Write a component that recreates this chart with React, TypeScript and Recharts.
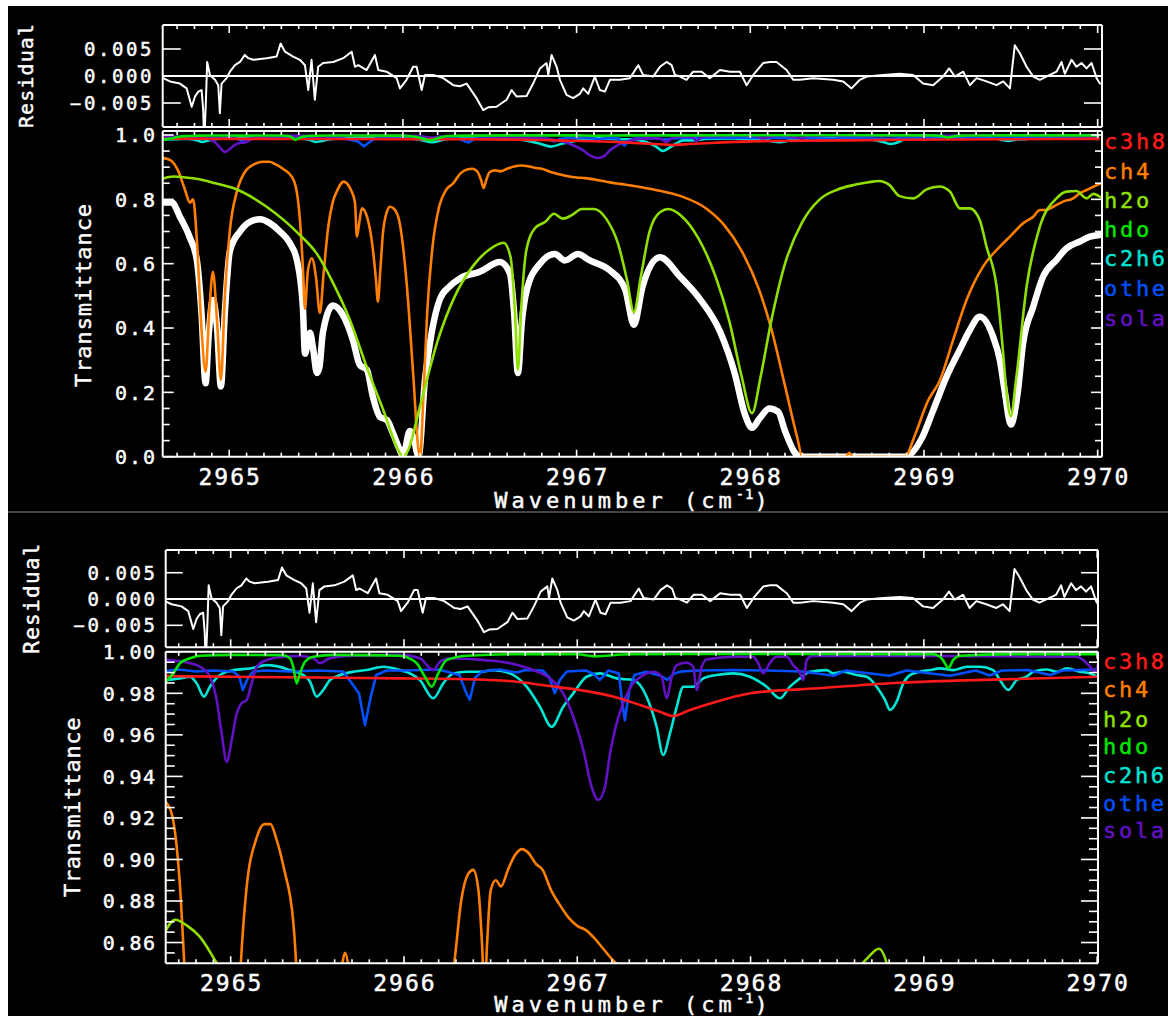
import React from 'react';
import { LineChart, Line, XAxis, YAxis, ReferenceLine } from 'recharts';

type Pt = [number, number];

// ---------- tick values / labels ----------
const xMajorValues = [2965, 2966, 2967, 2968, 2969, 2970];
const xMajorLabels = ['2965', '2966', '2967', '2968', '2969', '2970'];
const xTickValues = Array.from({ length: 54 }, (_, i) => Math.round((2964.7 + i * 0.1) * 10) / 10);

const residTickValues = [-0.005, 0, 0.005];
const residTickLabels = ['\u22120.005', '0.000', '0.005'];

const transMajorValues = [0, 0.2, 0.4, 0.6, 0.8, 1.0];
const transMajorLabels = ['0.0', '0.2', '0.4', '0.6', '0.8', '1.0'];
const transTickValues = Array.from({ length: 21 }, (_, i) => Math.round(i * 0.05 * 100) / 100);

const zoomMajorValues = [0.86, 0.88, 0.9, 0.92, 0.94, 0.96, 0.98, 1.0];
const zoomMajorLabels = ['0.86', '0.88', '0.90', '0.92', '0.94', '0.96', '0.98', '1.00'];
const zoomTickValues = Array.from({ length: 30 }, (_, i) => Math.round((0.855 + i * 0.005) * 1000) / 1000);

const legendNames = ['c3h8', 'ch4', 'h2o', 'hdo', 'c2h6', 'other', 'solar'];

// ---------- data ----------
const residual: Pt[] = [
  [2964.620, -0.0004], [2964.659, -0.0010], [2964.716, -0.0014], [2964.755, -0.0023], [2964.784, -0.0057],
  [2964.803, -0.0038], [2964.822, -0.0029], [2964.841, -0.0026], [2964.850, -0.0063], [2964.856, -0.0125],
  [2964.866, -0.0044], [2964.873, 0.0026], [2964.889, 0.0002], [2964.918, -0.0007], [2964.937, -0.0017],
  [2964.946, -0.0069], [2964.956, -0.0014], [2964.985, -0.0004], [2965.004, 0.0008], [2965.033, 0.0020],
  [2965.062, 0.0026], [2965.090, 0.0039], [2965.110, 0.0033], [2965.138, 0.0030], [2965.215, 0.0033],
  [2965.273, 0.0036], [2965.296, 0.0060], [2965.321, 0.0045], [2965.368, 0.0036], [2965.407, 0.0030],
  [2965.436, 0.0020], [2965.455, -0.0026], [2965.474, 0.0030], [2965.493, -0.0044], [2965.512, 0.0017],
  [2965.541, 0.0024], [2965.599, 0.0026], [2965.656, 0.0033], [2965.705, 0.0045], [2965.724, 0.0017],
  [2965.743, 0.0020], [2965.791, 0.0011], [2965.839, 0.0039], [2965.858, 0.0011], [2965.906, 0.0008],
  [2965.964, -0.0004], [2965.983, -0.0023], [2966.021, -0.0007], [2966.059, 0.0017], [2966.079, 0.0017],
  [2966.108, -0.0026], [2966.127, 0.0002], [2966.174, 0.0002], [2966.232, -0.0004], [2966.290, -0.0017],
  [2966.328, -0.0019], [2966.367, -0.0014], [2966.424, -0.0041], [2966.462, -0.0063], [2966.491, -0.0058],
  [2966.539, -0.0057], [2966.597, -0.0044], [2966.626, -0.0026], [2966.655, -0.0038], [2966.712, -0.0037],
  [2966.750, -0.0014], [2966.789, 0.0014], [2966.827, 0.0024], [2966.837, 0.0002], [2966.856, 0.0039],
  [2966.885, 0.0017], [2966.904, -0.0007], [2966.942, -0.0035], [2966.980, -0.0041], [2967.019, -0.0033],
  [2967.038, -0.0023], [2967.067, -0.0033], [2967.105, -0.0001], [2967.134, -0.0026], [2967.163, -0.0029],
  [2967.192, -0.0007], [2967.249, -0.0007], [2967.307, -0.0004], [2967.355, 0.0020], [2967.383, 0.0002],
  [2967.441, -0.0001], [2967.480, 0.0017], [2967.518, 0.0026], [2967.547, 0.0020], [2967.566, 0.0002],
  [2967.595, -0.0001], [2967.633, -0.0007], [2967.671, 0.0008], [2967.720, 0.0008], [2967.767, -0.0004],
  [2967.825, 0.0011], [2967.883, 0.0008], [2967.940, 0.0008], [2967.979, -0.0017], [2968.017, 0.0002],
  [2968.074, 0.0024], [2968.113, 0.0026], [2968.151, 0.0026], [2968.209, 0.0011], [2968.247, -0.0007],
  [2968.286, -0.0007], [2968.362, -0.0004], [2968.477, -0.0007], [2968.535, -0.0010], [2968.583, -0.0023],
  [2968.631, -0.0007], [2968.670, -0.0001], [2968.765, 0.0002], [2968.861, 0.0004], [2968.938, 0.0002],
  [2968.995, -0.0014], [2969.053, -0.0017], [2969.110, -0.0001], [2969.145, 0.0014], [2969.178, -0.0001],
  [2969.226, 0.0008], [2969.264, -0.0017], [2969.303, -0.0004], [2969.360, -0.0010], [2969.418, -0.0017],
  [2969.456, -0.0010], [2969.495, -0.0023], [2969.523, 0.0057], [2969.552, 0.0042], [2969.591, 0.0017],
  [2969.629, -0.0001], [2969.667, -0.0007], [2969.725, 0.0002], [2969.763, 0.0008], [2969.792, 0.0026],
  [2969.811, 0.0004], [2969.850, 0.0030], [2969.878, 0.0017], [2969.907, 0.0024], [2969.936, 0.0014],
  [2969.965, 0.0024], [2969.994, -0.0004], [2970.013, -0.0014],
];

const measured: Pt[] = [
  [2964.620, 0.790], [2964.670, 0.790], [2964.716, 0.746], [2964.774, 0.680], [2964.814, 0.610],
  [2964.840, 0.450], [2964.864, 0.228], [2964.882, 0.380], [2964.906, 0.487], [2964.930, 0.400],
  [2964.952, 0.218], [2964.975, 0.450], [2965.004, 0.640], [2965.062, 0.700], [2965.119, 0.730],
  [2965.177, 0.738], [2965.234, 0.726], [2965.292, 0.700], [2965.349, 0.664], [2965.390, 0.610],
  [2965.424, 0.466], [2965.436, 0.320], [2965.465, 0.385], [2965.482, 0.340], [2965.505, 0.260],
  [2965.520, 0.280], [2965.539, 0.385], [2965.597, 0.470], [2965.655, 0.440], [2965.712, 0.363],
  [2965.752, 0.285], [2965.793, 0.270], [2965.827, 0.187], [2965.867, 0.124], [2965.908, 0.114],
  [2965.942, 0.074], [2965.983, 0.020], [2966.000, 0.002], [2966.040, 0.080], [2966.060, 0.060],
  [2966.090, 0.002], [2966.127, 0.240], [2966.167, 0.390], [2966.213, 0.490], [2966.270, 0.530],
  [2966.330, 0.555], [2966.443, 0.575], [2966.558, 0.605], [2966.616, 0.570], [2966.640, 0.450],
  [2966.662, 0.260], [2966.685, 0.420], [2966.714, 0.520], [2966.789, 0.600], [2966.875, 0.630],
  [2966.932, 0.610], [2967.007, 0.630], [2967.076, 0.610], [2967.190, 0.580], [2967.280, 0.520],
  [2967.330, 0.410], [2967.380, 0.530], [2967.480, 0.620], [2967.595, 0.560], [2967.710, 0.490],
  [2967.825, 0.390], [2967.910, 0.260], [2967.970, 0.130], [2968.010, 0.090], [2968.055, 0.120],
  [2968.110, 0.150], [2968.160, 0.140], [2968.200, 0.080], [2968.260, 0.010], [2968.290, 0.000],
  [2968.890, 0.000], [2968.990, 0.060], [2969.050, 0.140], [2969.130, 0.249], [2969.206, 0.332],
  [2969.264, 0.394], [2969.321, 0.435], [2969.398, 0.373], [2969.437, 0.300], [2969.466, 0.200],
  [2969.500, 0.100], [2969.540, 0.200], [2969.570, 0.350], [2969.629, 0.466], [2969.686, 0.560],
  [2969.763, 0.612], [2969.821, 0.648], [2969.898, 0.669], [2969.956, 0.684], [2970.013, 0.689],
];

const ch4: Pt[] = [
  [2964.620, 0.928], [2964.660, 0.922], [2964.705, 0.890], [2964.745, 0.830], [2964.774, 0.790],
  [2964.792, 0.800], [2964.814, 0.670], [2964.840, 0.400], [2964.864, 0.264], [2964.885, 0.450],
  [2964.906, 0.575], [2964.930, 0.420], [2964.952, 0.238], [2964.975, 0.500], [2965.004, 0.705],
  [2965.044, 0.824], [2965.090, 0.885], [2965.148, 0.910], [2965.194, 0.917], [2965.230, 0.917],
  [2965.263, 0.910], [2965.309, 0.895], [2965.361, 0.870], [2965.390, 0.820], [2965.407, 0.736],
  [2965.424, 0.590], [2965.436, 0.460], [2965.453, 0.580], [2965.476, 0.617], [2965.499, 0.560],
  [2965.522, 0.447], [2965.545, 0.580], [2965.568, 0.705], [2965.597, 0.793], [2965.620, 0.825],
  [2965.645, 0.850], [2965.660, 0.855], [2965.680, 0.848], [2965.700, 0.830], [2965.724, 0.790],
  [2965.735, 0.684], [2965.748, 0.725], [2965.764, 0.772], [2965.793, 0.746], [2965.820, 0.674],
  [2965.845, 0.550], [2965.856, 0.482], [2965.870, 0.580], [2965.885, 0.695], [2965.910, 0.765],
  [2965.925, 0.777], [2965.950, 0.770], [2965.980, 0.730], [2966.020, 0.550], [2966.060, 0.250],
  [2966.090, 0.020], [2966.100, 0.000], [2966.115, 0.150], [2966.140, 0.450], [2966.170, 0.650],
  [2966.210, 0.780], [2966.250, 0.830], [2966.290, 0.850], [2966.330, 0.880], [2966.370, 0.893],
  [2966.400, 0.895], [2966.430, 0.885], [2966.450, 0.860], [2966.465, 0.835], [2966.480, 0.860],
  [2966.500, 0.885], [2966.530, 0.890], [2966.560, 0.887], [2966.600, 0.895], [2966.640, 0.902],
  [2966.680, 0.905], [2966.720, 0.903], [2966.760, 0.898], [2966.800, 0.895], [2966.850, 0.885],
  [2966.900, 0.878], [2966.950, 0.872], [2967.000, 0.868], [2967.050, 0.866], [2967.100, 0.862],
  [2967.150, 0.857], [2967.200, 0.852], [2967.250, 0.848], [2967.350, 0.840], [2967.450, 0.830],
  [2967.600, 0.810], [2967.750, 0.770], [2967.850, 0.720], [2967.950, 0.640], [2968.050, 0.520],
  [2968.120, 0.400], [2968.200, 0.220], [2968.270, 0.060], [2968.300, 0.000], [2968.550, 0.000],
  [2968.570, 0.012], [2968.590, 0.000], [2968.890, 0.000], [2968.950, 0.070], [2969.020, 0.170],
  [2969.092, 0.238], [2969.168, 0.363], [2969.245, 0.487], [2969.340, 0.591], [2969.437, 0.653],
  [2969.495, 0.684], [2969.572, 0.726], [2969.629, 0.746], [2969.667, 0.767], [2969.706, 0.767],
  [2969.744, 0.777], [2969.801, 0.793], [2969.859, 0.803], [2969.898, 0.819], [2969.936, 0.829],
  [2970.013, 0.848],
];

const h2o: Pt[] = [
  [2964.620, 0.865], [2964.680, 0.871], [2964.750, 0.868], [2964.820, 0.863], [2964.920, 0.850],
  [2965.023, 0.835], [2965.215, 0.777], [2965.407, 0.689], [2965.503, 0.632], [2965.599, 0.539],
  [2965.695, 0.425], [2965.791, 0.280], [2965.887, 0.145], [2965.983, 0.011], [2966.000, 0.000],
  [2966.030, 0.020], [2966.100, 0.160], [2966.200, 0.360], [2966.300, 0.500], [2966.400, 0.590],
  [2966.500, 0.645], [2966.580, 0.665], [2966.620, 0.620], [2966.645, 0.450], [2966.662, 0.270],
  [2966.680, 0.450], [2966.710, 0.640], [2966.760, 0.710], [2966.820, 0.730], [2966.870, 0.755],
  [2966.920, 0.740], [2966.970, 0.750], [2967.030, 0.770], [2967.100, 0.770], [2967.170, 0.740],
  [2967.240, 0.660], [2967.290, 0.550], [2967.330, 0.450], [2967.370, 0.560], [2967.420, 0.700],
  [2967.480, 0.760], [2967.530, 0.770], [2967.600, 0.750], [2967.700, 0.680], [2967.800, 0.560],
  [2967.880, 0.420], [2967.950, 0.250], [2968.010, 0.135], [2968.060, 0.250], [2968.120, 0.420],
  [2968.200, 0.600], [2968.300, 0.730], [2968.400, 0.800], [2968.500, 0.830], [2968.600, 0.845],
  [2968.680, 0.853], [2968.740, 0.857], [2968.800, 0.845], [2968.860, 0.810], [2968.940, 0.803],
  [2969.015, 0.831], [2969.090, 0.840], [2969.150, 0.824], [2969.207, 0.772], [2969.264, 0.772],
  [2969.321, 0.736], [2969.360, 0.653], [2969.418, 0.529], [2969.456, 0.321], [2969.470, 0.230],
  [2969.500, 0.126], [2969.530, 0.238], [2969.591, 0.529], [2969.667, 0.715], [2969.763, 0.803],
  [2969.821, 0.824], [2969.878, 0.826], [2969.936, 0.803], [2969.975, 0.817], [2970.013, 0.808],
];

const hdo: Pt[] = [
  [2964.625, 0.9856], [2964.669, 0.9896], [2964.707, 0.9945], [2964.765, 0.9969], [2964.823, 0.9981],
  [2965.000, 0.9985], [2965.300, 0.9984], [2965.342, 0.9969], [2965.361, 0.9928], [2965.381, 0.9848],
  [2965.400, 0.9896], [2965.429, 0.9952], [2965.477, 0.9976], [2965.600, 0.9985], [2965.977, 0.9981],
  [2966.040, 0.9965], [2966.073, 0.9945], [2966.121, 0.9880], [2966.160, 0.9832], [2966.198, 0.9896],
  [2966.246, 0.9960], [2966.362, 0.9981], [2966.700, 0.9989], [2967.000, 0.9988], [2967.100, 0.9978],
  [2967.300, 0.9988], [2968.000, 0.9990], [2969.050, 0.9989], [2969.093, 0.9977], [2969.122, 0.9945],
  [2969.141, 0.9921], [2969.170, 0.9961], [2969.208, 0.9981], [2969.500, 0.9989], [2970.005, 0.9989],
];

const c2h6: Pt[] = [
  [2964.631, 0.9864], [2964.707, 0.9872], [2964.765, 0.9880], [2964.804, 0.9848], [2964.846, 0.9784],
  [2964.880, 0.9832], [2964.938, 0.9888], [2965.015, 0.9912], [2965.111, 0.9920], [2965.208, 0.9936],
  [2965.265, 0.9931], [2965.342, 0.9912], [2965.400, 0.9896], [2965.458, 0.9856], [2965.496, 0.9784],
  [2965.534, 0.9816], [2965.573, 0.9864], [2965.631, 0.9888], [2965.707, 0.9904], [2965.785, 0.9912],
  [2965.881, 0.9928], [2965.977, 0.9912], [2966.035, 0.9896], [2966.092, 0.9864], [2966.169, 0.9776],
  [2966.227, 0.9848], [2966.284, 0.9896], [2966.362, 0.9904], [2966.439, 0.9904], [2966.515, 0.9912],
  [2966.612, 0.9896], [2966.708, 0.9832], [2966.785, 0.9735], [2966.852, 0.9639], [2966.919, 0.9735],
  [2966.977, 0.9800], [2967.054, 0.9880], [2967.131, 0.9896], [2967.227, 0.9872], [2967.323, 0.9864],
  [2967.400, 0.9784], [2967.458, 0.9639], [2967.496, 0.9503], [2967.535, 0.9607], [2967.574, 0.9735],
  [2967.612, 0.9832], [2967.669, 0.9832], [2967.727, 0.9872], [2967.804, 0.9888], [2967.900, 0.9896],
  [2967.996, 0.9880], [2968.093, 0.9832], [2968.170, 0.9776], [2968.227, 0.9832], [2968.285, 0.9872],
  [2968.342, 0.9904], [2968.439, 0.9912], [2968.477, 0.9896], [2968.535, 0.9904], [2968.612, 0.9888],
  [2968.670, 0.9880], [2968.728, 0.9832], [2968.776, 0.9768], [2968.805, 0.9720], [2968.843, 0.9760],
  [2968.881, 0.9848], [2968.920, 0.9888], [2968.977, 0.9904], [2969.035, 0.9912], [2969.093, 0.9920],
  [2969.170, 0.9912], [2969.247, 0.9928], [2969.324, 0.9928], [2969.400, 0.9912], [2969.439, 0.9864],
  [2969.487, 0.9816], [2969.536, 0.9864], [2969.593, 0.9880], [2969.631, 0.9904], [2969.709, 0.9915],
  [2969.766, 0.9904], [2969.824, 0.9920], [2969.901, 0.9904], [2969.959, 0.9896], [2970.003, 0.9880],
];

const other: Pt[] = [
  [2964.631, 0.9909], [2964.700, 0.9915], [2964.800, 0.9905], [2964.900, 0.9910], [2965.015, 0.9905],
  [2965.050, 0.9880], [2965.070, 0.9816], [2965.100, 0.9875], [2965.130, 0.9905], [2965.200, 0.9910],
  [2965.350, 0.9905], [2965.500, 0.9910], [2965.650, 0.9905], [2965.740, 0.9800], [2965.775, 0.9647],
  [2965.810, 0.9790], [2965.840, 0.9888], [2965.900, 0.9910], [2966.000, 0.9910], [2966.200, 0.9915],
  [2966.320, 0.9888], [2966.360, 0.9800], [2966.380, 0.9770], [2966.410, 0.9875], [2966.450, 0.9905],
  [2966.550, 0.9915], [2966.650, 0.9900], [2966.700, 0.9912], [2966.800, 0.9910], [2966.840, 0.9875],
  [2966.870, 0.9800], [2966.900, 0.9865], [2966.940, 0.9905], [2967.050, 0.9910], [2967.100, 0.9890],
  [2967.130, 0.9865], [2967.160, 0.9890], [2967.180, 0.9910], [2967.240, 0.9895], [2967.260, 0.9752],
  [2967.275, 0.9670], [2967.300, 0.9816], [2967.330, 0.9888], [2967.400, 0.9904], [2967.480, 0.9885],
  [2967.520, 0.9865], [2967.560, 0.9895], [2967.600, 0.9905], [2967.700, 0.9910], [2967.900, 0.9912],
  [2968.100, 0.9910], [2968.300, 0.9905], [2968.480, 0.9885], [2968.550, 0.9910], [2968.800, 0.9885],
  [2968.900, 0.9910], [2969.150, 0.9885], [2969.300, 0.9910], [2969.380, 0.9886], [2969.450, 0.9910],
  [2969.600, 0.9912], [2969.730, 0.9888], [2969.800, 0.9910], [2970.003, 0.9915],
];

const solar: Pt[] = [
  [2964.631, 0.9960], [2964.727, 0.9952], [2964.823, 0.9928], [2964.880, 0.9880], [2964.919, 0.9768],
  [2964.948, 0.9607], [2964.977, 0.9470], [2965.006, 0.9575], [2965.035, 0.9704], [2965.063, 0.9752],
  [2965.092, 0.9768], [2965.121, 0.9848], [2965.150, 0.9928], [2965.208, 0.9960], [2965.304, 0.9976],
  [2965.400, 0.9980], [2965.477, 0.9969], [2965.515, 0.9945], [2965.573, 0.9969], [2965.688, 0.9980],
  [2965.977, 0.9985], [2966.092, 0.9969], [2966.150, 0.9920], [2966.169, 0.9912], [2966.208, 0.9952],
  [2966.265, 0.9969], [2966.458, 0.9960], [2966.612, 0.9945], [2966.746, 0.9912], [2966.842, 0.9872],
  [2966.919, 0.9800], [2966.977, 0.9687], [2967.035, 0.9527], [2967.083, 0.9350], [2967.121, 0.9286],
  [2967.160, 0.9350], [2967.189, 0.9510], [2967.227, 0.9655], [2967.265, 0.9752], [2967.323, 0.9848],
  [2967.381, 0.9888], [2967.439, 0.9904], [2967.487, 0.9880], [2967.516, 0.9776], [2967.545, 0.9880],
  [2967.574, 0.9936], [2967.631, 0.9947], [2967.669, 0.9928], [2967.689, 0.9816], [2967.718, 0.9928],
  [2967.747, 0.9963], [2967.900, 0.9976], [2968.015, 0.9976], [2968.044, 0.9945], [2968.073, 0.9896],
  [2968.111, 0.9945], [2968.150, 0.9976], [2968.208, 0.9976], [2968.246, 0.9936], [2968.285, 0.9900],
  [2968.304, 0.9864], [2968.324, 0.9960], [2968.353, 0.9980], [2969.000, 0.9980], [2969.882, 0.9976],
  [2969.920, 0.9960], [2969.959, 0.9928], [2969.988, 0.9904], [2970.003, 0.9936],
];

const c3h8: Pt[] = [
  [2964.625, 0.9883], [2965.000, 0.9880], [2965.500, 0.9876], [2965.977, 0.9872], [2966.362, 0.9868],
  [2966.650, 0.9856], [2966.842, 0.9835], [2967.035, 0.9813], [2967.227, 0.9780], [2967.362, 0.9744],
  [2967.477, 0.9711], [2967.554, 0.9691], [2967.650, 0.9720], [2967.804, 0.9760], [2968.000, 0.9800],
  [2968.130, 0.9812], [2968.285, 0.9819], [2968.862, 0.9851], [2969.440, 0.9867], [2970.005, 0.9880],
];

// ---------- styling ----------
const W = 1168;
const H = 1016;
const FONT = '"DejaVu Sans Mono", monospace';
const WHITE = '#ffffff';
const TXT_STROKE = 0.45;
const COLORS: Record<string, string> = {
  c3h8: '#ff1a1a', ch4: '#ff7f00', h2o: '#8fe000', hdo: '#00e600',
  c2h6: '#00e5d5', other: '#0050ff', solar: '#6212c4',
};

interface Series { key: string; color: string; width: number; pts: Pt[]; curve: 'linear' | 'monotone' }

const transSeries: Series[] = [
  { key: 'measured', color: WHITE, width: 6.5, pts: measured, curve: 'monotone' },
  { key: 'ch4', color: COLORS.ch4, width: 2.6, pts: ch4, curve: 'monotone' },
  { key: 'h2o', color: COLORS.h2o, width: 2.6, pts: h2o, curve: 'monotone' },
  { key: 'c2h6', color: COLORS.c2h6, width: 2.6, pts: c2h6, curve: 'monotone' },
  { key: 'other', color: COLORS.other, width: 2.6, pts: other, curve: 'linear' },
  { key: 'solar', color: COLORS.solar, width: 2.6, pts: solar, curve: 'monotone' },
  { key: 'c3h8', color: COLORS.c3h8, width: 2.6, pts: c3h8, curve: 'monotone' },
  { key: 'hdo', color: COLORS.hdo, width: 2.6, pts: hdo, curve: 'monotone' },
];
const residSeries: Series[] = [
  { key: 'residual', color: WHITE, width: 2, pts: residual, curve: 'linear' },
];

interface Box { x0: number; x1: number; y0: number; y1: number }
const BOX_RES_TOP: Box = { x0: 162.7, x1: 1102, y0: 25, y1: 127 };
const BOX_TR_TOP: Box = { x0: 162.7, x1: 1102, y0: 131, y1: 456.7 };
const BOX_RES_BOT: Box = { x0: 165.7, x1: 1098, y0: 550, y1: 647.3 };
const BOX_TR_BOT: Box = { x0: 165.7, x1: 1098, y0: 651.8, y1: 963.3 };

const X_DOM_TOP: [number, number] = [2964.617, 2970.025];
const X_DOM_BOT: [number, number] = [2964.625, 2970.005];

interface YCfg {
  domain: [number, number];
  ticks: number[];
  majors: number[];
  labels: string[];
  majLen: number;
  minLen: number;
  labelRight: number;
  fontSize: number;
  spacing: number;
}

const Y_RES_TOP: YCfg = { domain: [-0.00944, 0.00944], ticks: residTickValues, majors: residTickValues, labels: residTickLabels, majLen: 18, minLen: 18, labelRight: 151.5, fontSize: 19, spacing: 2.6 };
const Y_TR_TOP: YCfg = { domain: [0, 1.0124], ticks: transTickValues, majors: transMajorValues, labels: transMajorLabels, majLen: 11, minLen: 7, labelRight: 155, fontSize: 20, spacing: 1.9 };
const Y_RES_BOT: YCfg = { domain: [-0.00918, 0.00932], ticks: residTickValues, majors: residTickValues, labels: residTickLabels, majLen: 17, minLen: 17, labelRight: 155, fontSize: 19, spacing: 2.6 };
const Y_TR_BOT: YCfg = { domain: [0.85, 1.0], ticks: zoomTickValues, majors: zoomMajorValues, labels: zoomMajorLabels, majLen: 17, minLen: 9, labelRight: 155, fontSize: 20, spacing: 1.4 };

function majorIndex(v: number, majors: number[]) {
  for (let i = 0; i < majors.length; i++) if (Math.abs(majors[i] - v) < 1e-7) return i;
  return -1;
}

function makeXTick(axisY: number, dir: number, majLen: number, minLen: number, labelBase: number | null) {
  return (props: any) => {
    const v = Number(props.payload?.value);
    const cx = Number(props.x);
    const idx = majorIndex(v, xMajorValues);
    const len = idx >= 0 ? majLen : minLen;
    return (
      <g>
        <line x1={cx} x2={cx} y1={axisY} y2={axisY + dir * len} stroke={WHITE} strokeWidth={1.6} />
        {labelBase !== null && idx >= 0 ? (
          <text x={cx + 1} y={labelBase} textAnchor="middle" fill={WHITE} stroke={WHITE} strokeWidth={TXT_STROKE}
            fontFamily={FONT} fontSize={23} letterSpacing={2}>
            {xMajorLabels[idx]}
          </text>
        ) : null}
      </g>
    );
  };
}

function makeYTick(axisX: number, dir: number, cfg: YCfg, withLabel: boolean) {
  return (props: any) => {
    const v = Number(props.payload?.value);
    const cy = Number(props.y);
    const idx = majorIndex(v, cfg.majors);
    const len = idx >= 0 ? cfg.majLen : cfg.minLen;
    return (
      <g>
        <line x1={axisX} x2={axisX + dir * len} y1={cy} y2={cy} stroke={WHITE} strokeWidth={1.6} />
        {withLabel && idx >= 0 ? (
          <text x={cfg.labelRight + cfg.spacing} y={cy + cfg.fontSize * 0.36} textAnchor="end" fill={WHITE}
            stroke={WHITE} strokeWidth={TXT_STROKE}
            fontFamily={FONT} fontSize={cfg.fontSize} letterSpacing={cfg.spacing}>
            {cfg.labels[idx]}
          </text>
        ) : null}
      </g>
    );
  };
}

function Panel(props: {
  box: Box; xDom: [number, number]; y: YCfg; series: Series[]; zero?: boolean;
  xMaj: number; xMin: number; xLabelBase: number | null;
}) {
  const { box, xDom, y, series, zero, xMaj, xMin, xLabelBase } = props;
  return (
    <div style={{ position: 'absolute', left: 0, top: 0, width: W, height: H }}>
      <LineChart width={W} height={H} margin={{ top: 0, right: 0, bottom: 0, left: 0 }}>
        <XAxis xAxisId="b" dataKey="x" type="number" orientation="bottom" domain={xDom} allowDataOverflow
          ticks={xTickValues} interval={0} height={H - box.y1} tickLine={false} tickSize={0} tickMargin={0}
          axisLine={{ stroke: WHITE, strokeWidth: 2 }} tick={makeXTick(box.y1, -1, xMaj, xMin, xLabelBase)} />
        <XAxis xAxisId="t" dataKey="x" type="number" orientation="top" domain={xDom} allowDataOverflow
          ticks={xTickValues} interval={0} height={box.y0} tickLine={false} tickSize={0} tickMargin={0}
          axisLine={{ stroke: WHITE, strokeWidth: 2 }} tick={makeXTick(box.y0, 1, xMaj, xMin, null)} />
        <YAxis yAxisId="l" type="number" orientation="left" domain={y.domain} allowDataOverflow
          ticks={y.ticks} interval={0} width={box.x0} tickLine={false} tickSize={0} tickMargin={0}
          axisLine={{ stroke: WHITE, strokeWidth: 2 }} tick={makeYTick(box.x0, 1, y, true)} />
        <YAxis yAxisId="r" type="number" orientation="right" domain={y.domain} allowDataOverflow
          ticks={y.ticks} interval={0} width={W - box.x1} tickLine={false} tickSize={0} tickMargin={0}
          axisLine={{ stroke: WHITE, strokeWidth: 2 }} tick={makeYTick(box.x1, -1, y, false)} />
        {zero ? (
          <ReferenceLine xAxisId="b" yAxisId="l" y={0} stroke={WHITE} strokeWidth={2} />
        ) : null}
        {series.map((s) => (
          <Line key={s.key} xAxisId="b" yAxisId="l" data={s.pts.map(([x, v]) => ({ x, y: v }))} dataKey="y"
            type={s.curve} stroke={s.color} strokeWidth={s.width} dot={false} isAnimationActive={false}
            strokeLinejoin="round" strokeLinecap="round" />
        ))}
      </LineChart>
    </div>
  );
}

function VTitle(p: { x: number; y: number; text: string; size: number; spacing: number }) {
  return (
    <text transform={`translate(${p.x},${p.y}) rotate(-90)`} textAnchor="middle" fill={WHITE}
      stroke={WHITE} strokeWidth={TXT_STROKE}
      fontFamily={FONT} fontSize={p.size} letterSpacing={p.spacing}>
      {p.text}
    </text>
  );
}

function XTitle(p: { x: number; y: number }) {
  return (
    <text x={p.x} y={p.y} textAnchor="middle" fill={WHITE} stroke={WHITE} strokeWidth={TXT_STROKE}
      fontFamily={FONT} fontSize={22} letterSpacing={4}>
      Wavenumber (cm
      <tspan dy={-9} fontSize={14} letterSpacing={1}>{'-1'}</tspan>
      <tspan dy={9}>)</tspan>
    </text>
  );
}

const legendTopY = [149, 179, 208, 237, 266, 296, 326];
const legendBotY = [669, 697, 727, 754, 783, 811, 838];

export default function App() {
  return (
    <div style={{ position: 'absolute', left: 0, top: 0, width: W, height: H, overflow: 'hidden', background: '#fff' }}>
      <div style={{ position: 'absolute', left: 8, top: 6, width: W - 8, height: H - 6, background: '#000' }} />
      <Panel box={BOX_RES_TOP} xDom={X_DOM_TOP} y={Y_RES_TOP} series={residSeries} zero xMaj={8} xMin={4} xLabelBase={null} />
      <Panel box={BOX_TR_TOP} xDom={X_DOM_TOP} y={Y_TR_TOP} series={transSeries} xMaj={7} xMin={4} xLabelBase={485} />
      <Panel box={BOX_RES_BOT} xDom={X_DOM_BOT} y={Y_RES_BOT} series={residSeries} zero xMaj={8} xMin={4} xLabelBase={null} />
      <Panel box={BOX_TR_BOT} xDom={X_DOM_BOT} y={Y_TR_BOT} series={transSeries.filter((s) => s.key !== 'measured')} xMaj={7} xMin={4} xLabelBase={991} />
      <svg width={W} height={H} style={{ position: 'absolute', left: 0, top: 0 }}>
        <line x1={8} x2={W} y1={512} y2={512} stroke="#8a8a8a" strokeWidth={1} />
        <VTitle x={33} y={75.5} text="Residual" size={20} spacing={1.1} />
        <VTitle x={90.5} y={295} text="Transmittance" size={22} spacing={0.9} />
        <VTitle x={39} y={598} text="Residual" size={21} spacing={1.3} />
        <VTitle x={80} y={807} text="Transmittance" size={22} spacing={0.6} />
        <XTitle x={633} y={508} />
        <XTitle x={633} y={1012} />
        {legendNames.map((n, i) => (
          <text key={'lt' + n} x={1104} y={legendTopY[i]} fill={COLORS[n]} stroke={COLORS[n]} strokeWidth={TXT_STROKE}
            fontFamily={FONT} fontSize={22} letterSpacing={2.7}>{n}</text>
        ))}
        {legendNames.map((n, i) => (
          <text key={'lb' + n} x={1103} y={legendBotY[i]} fill={COLORS[n]} stroke={COLORS[n]} strokeWidth={TXT_STROKE}
            fontFamily={FONT} fontSize={22} letterSpacing={2.7}>{n}</text>
        ))}
      </svg>
    </div>
  );
}
